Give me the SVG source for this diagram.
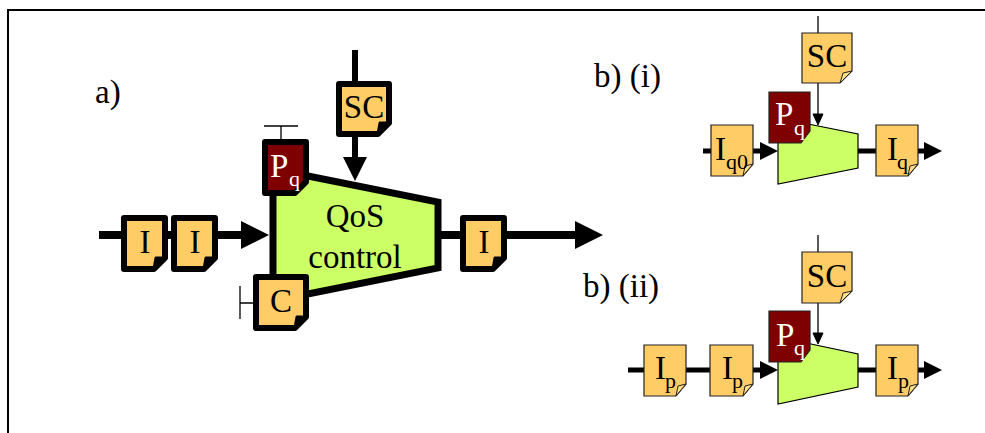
<svg xmlns="http://www.w3.org/2000/svg" width="985" height="433" viewBox="0 0 985 433">
<style>
text{font-family:"Liberation Serif","Times New Roman",serif;fill:#000}
.t{font-size:33px;text-anchor:middle}
.l{font-size:33px}
.n{font-size:33px}
.s{font-size:22px}
.w{fill:#fff}
.big{fill:#fc6;stroke:#000;stroke-width:6;stroke-linejoin:round}
.bigm{fill:#7f0000;stroke:#000;stroke-width:6;stroke-linejoin:round}
.fold{fill:#000;stroke:#000;stroke-width:3;stroke-linejoin:round}
.doc{fill:#fc6;stroke:#222;stroke-width:1.2}
.docm{fill:#7f0000;stroke:#222;stroke-width:1.2}
.f{fill:#fd8;stroke:#222;stroke-width:1}
.thick{stroke:#000;stroke-width:8;fill:none}
.mid{stroke:#000;stroke-width:6;fill:none}
.thin{stroke:#000;stroke-width:1.3;fill:none}
.sl{stroke:#000;stroke-width:5;fill:none}
</style>
<g id="frame"><path d="M985 10H8V433" fill="none" stroke="#000" stroke-width="2"/></g>
<g id="connectors">
<path class="thick" d="M99 235H241"/><path d="M241 221L269 235L241 249Z"/>
<path class="thick" d="M438 235H575"/><path d="M575 221L603 235L575 249Z"/>
<path class="mid" d="M355 50V157"/><path d="M343 157H367L355 181Z"/>
<path class="thin" d="M281 139V126M264 126H298"/>
<path class="thin" d="M253 303H240M240 286V319"/>
<path class="thin" d="M818 16V114"/><path d="M813 114H823L818 125Z" stroke="#000"/>
<path class="sl" d="M703 151H760"/><path d="M760 142L778 151L760 160Z"/>
<path class="sl" d="M858 151H924"/><path d="M924 142L942 151L924 160Z"/>
<path class="thin" d="M818 235V333"/><path d="M813 333H823L818 344Z" stroke="#000"/>
<path class="sl" d="M628 370H760"/><path d="M760 361L778 370L760 379Z"/>
<path class="sl" d="M858 370H924"/><path d="M924 361L942 370L924 379Z"/>
</g>
<g id="qos"><path d="M273 169L438 202V268L273 301Z" fill="#cf6" stroke="#000" stroke-width="7"/>
<text class="t" x="355" y="227">QoS</text><text class="t" x="355" y="268">control</text></g>
<g id="a-i1"><path class="big" d="M124 218H165V258L154 269H124Z"/><path class="fold" d="M165 258L154 269L156 258Z"/><text class="t" x="145" y="253">I</text></g>
<g id="a-i2"><path class="big" d="M174 218H215V258L204 269H174Z"/><path class="fold" d="M215 258L204 269L206 258Z"/><text class="t" x="195" y="253">I</text></g>
<g id="a-i3"><path class="big" d="M463 218H504V258L493 269H463Z"/><path class="fold" d="M504 258L493 269L495 258Z"/><text class="t" x="484" y="253">I</text></g>
<g id="a-sc"><path class="big" d="M339 84H389V123L378 134H339Z"/><path class="fold" d="M389 123L378 134L380 123Z"/><text class="t" x="364" y="118">SC</text></g>
<g id="a-c"><path class="big" d="M256 277H306V317L295 328H256Z"/><path class="fold" d="M306 317L295 328L297 317Z"/><text class="t" x="281" y="312">C</text></g>
<g id="a-p"><path class="bigm" d="M265 142H306V182L295 193H265Z"/><text class="w n" x="270" y="177">P</text><text class="w s" x="289" y="186">q</text></g>
<text class="l" x="95" y="103">a)</text>
<text class="l" x="594" y="87">b) (i)</text>
<text class="l" x="583" y="297">b) (ii)</text>

<g id="bi-trap"><path d="M778 118L858 134V168L778 184Z" fill="#cf6" stroke="#000" stroke-width="1.200"/></g>
<g id="bi-sc"><path class="doc" d="M802 33H852V71L840 83H802Z"/><path class="f" d="M852 71L840 83L843 73Z"/><text class="t" x="827" y="67">SC</text></g>
<g id="bi-p"><path class="docm" d="M769 92H810V131L801 143H769Z"/><text class="w n" x="775" y="125">P</text><text class="w s" x="794" y="135">q</text></g>
<g id="bi-i0"><path class="doc" d="M711 125H753V164L743 176H711Z"/><path class="f" d="M753 164L743 176L745 166Z"/><text class="n" x="715" y="160">I</text><text class="s" x="726" y="169">q0</text></g>
<g id="bi-iq"><path class="doc" d="M876 125H918V164L908 176H876Z"/><path class="f" d="M918 164L908 176L910 166Z"/><text class="n" x="887" y="160">I</text><text class="s" x="897" y="169">q</text></g>

<g id="bii-trap"><path d="M778 337L858 354V387L778 404Z" fill="#cf6" stroke="#000" stroke-width="1.200"/></g>
<g id="bii-sc"><path class="doc" d="M802 252H852V291L840 303H802Z"/><path class="f" d="M852 291L840 303L843 293Z"/><text class="t" x="827" y="287">SC</text></g>
<g id="bii-p"><path class="docm" d="M769 311H810V350L801 362H769Z"/><text class="w n" x="776" y="346">P</text><text class="w s" x="794" y="355">q</text></g>
<g id="bii-i1"><path class="doc" d="M644 345H686V384L676 396H644Z"/><path class="f" d="M686 384L676 396L678 386Z"/><text class="n" x="655" y="379">I</text><text class="s" x="665" y="388">p</text></g>
<g id="bii-i2"><path class="doc" d="M710 345H753V384L743 396H710Z"/><path class="f" d="M753 384L743 396L745 386Z"/><text class="n" x="722" y="379">I</text><text class="s" x="732" y="388">p</text></g>
<g id="bii-i3"><path class="doc" d="M876 345H918V384L908 396H876Z"/><path class="f" d="M918 384L908 396L910 386Z"/><text class="n" x="887" y="379">I</text><text class="s" x="898" y="388">p</text></g>
</svg>
